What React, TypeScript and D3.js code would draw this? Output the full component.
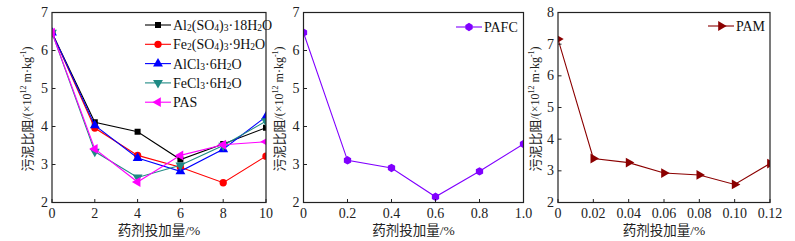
import React from "react";
import * as d3 from "d3";

// ---------- data ----------
const dose1 = [0, 2, 4, 6, 8, 10];
const al2so4 = [6.47, 4.11, 3.86, 3.13, 3.54, 3.97];
const fe2so4 = [6.47, 3.96, 3.24, 2.93, 2.52, 3.22];
const alcl3 = [6.47, 4.03, 3.17, 2.82, 3.4, 4.26];
const fecl3 = [6.47, 3.34, 2.66, 2.98, 3.5, 4.14];
const pas = [6.47, 3.41, 2.54, 3.24, 3.52, 3.6];

const dose2 = [0, 0.2, 0.4, 0.6, 0.8, 1.0];
const pafc = [6.47, 3.11, 2.91, 2.15, 2.82, 3.54];

const dose3 = [0, 0.02, 0.04, 0.06, 0.08, 0.1, 0.12];
const pam = [7.16, 3.39, 3.26, 2.93, 2.87, 2.57, 3.23];

const xTicks1 = ["0", "2", "4", "6", "8", "10"];
const xTicks2 = ["0", "0.2", "0.4", "0.6", "0.8", "1.0"];
const xTicks3 = ["0", "0.02", "0.04", "0.06", "0.08", "0.10", "0.12"];
const yTicks1 = [2, 3, 4, 5, 6, 7];
const yTicks3 = [2, 3, 4, 5, 6, 7, 8];

const xTitle = "药剂投加量/%";

const FONT = "'Liberation Serif', 'Times New Roman', 'Noto Sans CJK SC', serif";

type Piece = { t: string; sub?: boolean; sup?: boolean };

const hexagon: d3.SymbolType = {
  draw(ctx, size) {
    const r = Math.sqrt((size * 2) / (3 * Math.sqrt(3)));
    for (let i = 0; i < 6; i++) {
      const a = (Math.PI / 3) * i + Math.PI / 6;
      const x = r * Math.cos(a);
      const y = r * Math.sin(a);
      if (i === 0) ctx.moveTo(x, y);
      else ctx.lineTo(x, y);
    }
    ctx.closePath();
  },
};

type Series = {
  name: Piece[];
  values: number[];
  color: string;
  symbol: d3.SymbolType;
  size: number;
  rotate: number;
};

const series1: Series[] = [
  { name: [{ t: "Al" }, { t: "2", sub: true }, { t: "(SO" }, { t: "4", sub: true }, { t: ")" }, { t: "3", sub: true }, { t: "·18H" }, { t: "2", sub: true }, { t: "O" }], values: al2so4, color: "#000000", symbol: d3.symbolSquare, size: 36, rotate: 0 },
  { name: [{ t: "Fe" }, { t: "2", sub: true }, { t: "(SO" }, { t: "4", sub: true }, { t: ")" }, { t: "3", sub: true }, { t: "·9H" }, { t: "2", sub: true }, { t: "O" }], values: fe2so4, color: "#ff0000", symbol: d3.symbolCircle, size: 42, rotate: 0 },
  { name: [{ t: "AlCl" }, { t: "3", sub: true }, { t: "·6H" }, { t: "2", sub: true }, { t: "O" }], values: alcl3, color: "#0000ff", symbol: d3.symbolTriangle, size: 42, rotate: 0 },
  { name: [{ t: "FeCl" }, { t: "3", sub: true }, { t: "·6H" }, { t: "2", sub: true }, { t: "O" }], values: fecl3, color: "#1f8a84", symbol: d3.symbolTriangle, size: 42, rotate: 180 },
  { name: [{ t: "PAS" }], values: pas, color: "#ff00ff", symbol: d3.symbolTriangle, size: 42, rotate: -90 },
];
const series2: Series[] = [
  { name: [{ t: "PAFC" }], values: pafc, color: "#8000ff", symbol: hexagon, size: 46, rotate: 0 },
];
const series3: Series[] = [
  { name: [{ t: "PAM" }], values: pam, color: "#8b0000", symbol: d3.symbolTriangle, size: 42, rotate: 90 },
];

function RichText({ pieces, x, y, size }: { pieces: Piece[]; x: number; y: number; size: number }) {
  return (
    <text x={x} y={y} fontFamily={FONT} fontSize={size} dominantBaseline="central" fill="#111">
      {pieces.map((p, i) => {
        const prev = i > 0 ? pieces[i - 1] : null;
        const prevShift = prev ? (prev.sub ? 3 : prev.sup ? -5 : 0) : 0;
        const curShift = p.sub ? 3 : p.sup ? -5 : 0;
        const dy = curShift - prevShift;
        return (
          <tspan key={i} dy={dy} fontSize={p.sub || p.sup ? size * 0.68 : size}>
            {p.t}
          </tspan>
        );
      })}
    </text>
  );
}

type PanelProps = {
  id: string;
  left: number;
  right: number;
  top: number;
  bottom: number;
  xDomain: [number, number];
  yDomain: [number, number];
  xs: number[];
  xLabels: string[];
  yTicks: number[];
  series: Series[];
  titleX: number;
  legend: { x: number; y: number; step: number };
};

function Panel(p: PanelProps) {
  const x = d3.scaleLinear().domain(p.xDomain).range([p.left, p.right]);
  const y = d3.scaleLinear().domain(p.yDomain).range([p.bottom, p.top]);
  const xTickVals = p.xLabels.map((s) => parseFloat(s));
  const line = d3
    .line<number>()
    .x((_, i) => x(p.xs[i]))
    .y((v) => y(v));
  const clipId = "clip-" + p.id;
  const midX = (p.left + p.right) / 2;
  const midY = (p.top + p.bottom) / 2 + 1.5;
  return (
    <g>
      <defs>
        <clipPath id={clipId}>
          <rect x={p.left} y={p.top} width={p.right - p.left} height={p.bottom - p.top} />
        </clipPath>
      </defs>
      <g clipPath={`url(#${clipId})`}>
        {p.series.map((s, si) => (
          <g key={si}>
            <path d={line(s.values) || ""} fill="none" stroke={s.color} strokeWidth={1.1} />
            {s.values.map((v, i) => (
              <path
                key={i}
                d={d3.symbol().type(s.symbol).size(s.size)() || ""}
                transform={`translate(${x(p.xs[i])},${y(v)}) rotate(${s.rotate})`}
                fill={s.color}
              />
            ))}
          </g>
        ))}
      </g>
      <rect x={p.left} y={p.top} width={p.right - p.left} height={p.bottom - p.top} fill="none" stroke="#222" strokeWidth={1.2} />
      {xTickVals.map((v, i) => (
        <g key={"xt" + i}>
          <line x1={x(v)} x2={x(v)} y1={p.bottom} y2={p.bottom - 3.5} stroke="#222" strokeWidth={1} />
          <text x={x(v)} y={p.bottom + 11} textAnchor="middle" dominantBaseline="central" fontFamily={FONT} fontSize={14} fill="#222">
            {p.xLabels[i]}
          </text>
        </g>
      ))}
      {p.yTicks.map((v, i) => (
        <g key={"yt" + i}>
          <line x1={p.left} x2={p.left + 3.5} y1={y(v)} y2={y(v)} stroke="#222" strokeWidth={1} />
          <text x={p.left - 4} y={y(v)} textAnchor="end" dominantBaseline="central" fontFamily={FONT} fontSize={14} fill="#222">
            {v}
          </text>
        </g>
      ))}
      <text x={midX} y={p.bottom + 28} textAnchor="middle" dominantBaseline="central" fontFamily={FONT} fontSize={13.5} fill="#222">
        {xTitle}
      </text>
      <text
        transform={`translate(${p.titleX},${midY}) rotate(-90)`}
        textAnchor="middle"
        dominantBaseline="central"
        fontFamily={FONT}
        fontSize={12}
        fill="#222"
      >
        <tspan fontSize={13}>污泥比阻</tspan>
        <tspan>/(×10</tspan>
        <tspan dy={-4} fontSize={8}>12</tspan>
        <tspan dy={4}> m·kg</tspan>
        <tspan dy={-4} fontSize={8}>-1</tspan>
        <tspan dy={4}>)</tspan>
      </text>
      {p.series.map((s, si) => {
        const ly = p.legend.y + si * p.legend.step;
        const lx = p.legend.x;
        return (
          <g key={"lg" + si}>
            <line x1={lx} x2={lx + 26} y1={ly} y2={ly} stroke={s.color} strokeWidth={1.1} />
            <path
              d={d3.symbol().type(s.symbol).size(s.size)() || ""}
              transform={`translate(${lx + 13},${ly}) rotate(${s.rotate})`}
              fill={s.color}
            />
            <RichText pieces={s.name} x={lx + 28} y={ly} size={14} />
          </g>
        );
      })}
    </g>
  );
}

export default function App() {
  return (
    <svg width={795} height={241} style={{ position: "absolute", left: 0, top: 0, background: "#fff" }}>
      <Panel
        id="p1"
        left={52}
        right={266}
        top={12.5}
        bottom={202.5}
        xDomain={[0, 10]}
        yDomain={[2, 7]}
        xs={dose1}
        xLabels={xTicks1}
        yTicks={yTicks1}
        series={series1}
        titleX={27}
        legend={{ x: 145, y: 25, step: 19.3 }}
      />
      <Panel
        id="p2"
        left={303.5}
        right={523.5}
        top={12.5}
        bottom={202.5}
        xDomain={[0, 1]}
        yDomain={[2, 7]}
        xs={dose2}
        xLabels={xTicks2}
        yTicks={yTicks1}
        series={series2}
        titleX={279}
        legend={{ x: 456, y: 27, step: 19 }}
      />
      <Panel
        id="p3"
        left={558}
        right={770}
        top={12.5}
        bottom={202.5}
        xDomain={[0, 0.12]}
        yDomain={[2, 8]}
        xs={dose3}
        xLabels={xTicks3}
        yTicks={yTicks3}
        series={series3}
        titleX={535}
        legend={{ x: 708, y: 26, step: 19 }}
      />
    </svg>
  );
}
